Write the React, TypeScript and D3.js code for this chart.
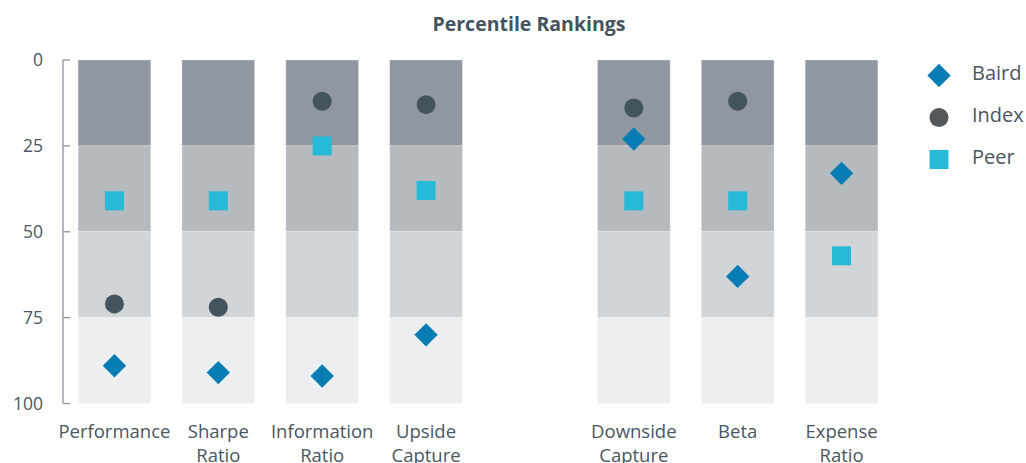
import React from "react";
import * as d3 from "d3";

const categories = ["Performance", "Sharpe\nRatio", "Information\nRatio", "Upside\nCapture", "", "Downside\nCapture", "Beta", "Expense\nRatio"];
const bairdValues: (number | null)[] = [89, 91, 92, 80, null, 23, 63, 33];
const indexValues: (number | null)[] = [71, 72, 12, 13, null, 14, 12, null];
const peerValues: (number | null)[] = [41, 41, 25, 38, null, 41, 41, 57];
const bandEdges = [0, 25, 50, 75, 100];
const yTicks = [0, 25, 50, 75, 100];
const legendItems = ["Baird", "Index", "Peer"];

const W = 1026;
const H = 463;
const bandColors = ["#9097a0", "#b5babe", "#d1d5d8", "#eceef0"];
const textColor = "#4a5661";
const font = "'Open Sans', sans-serif";

export default function App() {
  const x = d3.scaleBand<string>().domain(categories.map((c, i) => i + "")).range([62.5, 893.5]).paddingInner(0.3).paddingOuter(0.15);
  const y = d3.scaleLinear().domain([0, 100]).range([60, 403.5]);
  const bw = x.bandwidth();
  const diamond = d3.symbol().type(d3.symbolSquare).size(16.5 * 16.5)();
  const circle = d3.symbol().type(d3.symbolCircle).size(Math.PI * 9.5 * 9.5)();
  const square = d3.symbol().type(d3.symbolSquare).size(19 * 19)();

  return (
    <svg width={W} height={H} style={{ position: "absolute", left: 0, top: 0 }} fontFamily={font}>
      <text x={529} y={31} textAnchor="middle" fontWeight="bold" fontSize={19.5} fill="#44535e">Percentile Rankings</text>
      {categories.map((c, i) => {
        if (!c) return null;
        const x0 = x(i + "")!;
        return (
          <g key={i}>
            {bandColors.map((col, k) => (
              <rect key={k} x={x0} width={bw} y={y(bandEdges[k])} height={y(bandEdges[k + 1]) - y(bandEdges[k])} fill={col} stroke="#ffffff" strokeOpacity={0.35} strokeWidth={0.8} />
            ))}
            {c.split("\n").map((line, j) => (
              <text key={j} x={x0 + bw / 2} y={438 + j * 24} textAnchor="middle" fontSize={18.5} fill={textColor}>{line}</text>
            ))}
          </g>
        );
      })}
      {/* y axis */}
      <g>
        <line x1={63} x2={63} y1={y(0)} y2={y(100)} stroke="#8a949c" strokeWidth={1.3} />
        {yTicks.map((t) => (
          <g key={t}>
            <line x1={63} x2={70} y1={y(t)} y2={y(t)} stroke="#8a949c" strokeWidth={1.3} />
            <text x={43} y={y(t)} dy="0.35em" textAnchor="end" fontSize={17.5} fill={textColor}>{t}</text>
          </g>
        ))}
      </g>
      {/* markers */}
      {categories.map((c, i) => {
        const cx = x(i + "")! + bw / 2;
        return (
          <g key={"m" + i}>
            {peerValues[i] != null && <path d={square!} transform={`translate(${cx},${y(peerValues[i]!)})`} fill="#26bad8" />}
            {indexValues[i] != null && <path d={circle!} transform={`translate(${cx},${y(indexValues[i]!)})`} fill="#44545f" />}
            {bairdValues[i] != null && <path d={diamond!} transform={`translate(${cx},${y(bairdValues[i]!)}) rotate(45)`} fill="#077db4" />}
          </g>
        );
      })}
      {/* legend */}
      {legendItems.map((name, i) => {
        const ly = 75.5 + i * 42;
        const d = i === 0 ? diamond : i === 1 ? circle : square;
        const fill = i === 0 ? "#077db4" : i === 1 ? "#55585a" : "#26bad8";
        return (
          <g key={name}>
            <path d={d!} transform={`translate(939,${ly})${i === 0 ? " rotate(45)" : ""}`} fill={fill} />
            <text x={972} y={ly + 4} fontSize={20} fill={textColor}>{name}</text>
          </g>
        );
      })}
    </svg>
  );
}
